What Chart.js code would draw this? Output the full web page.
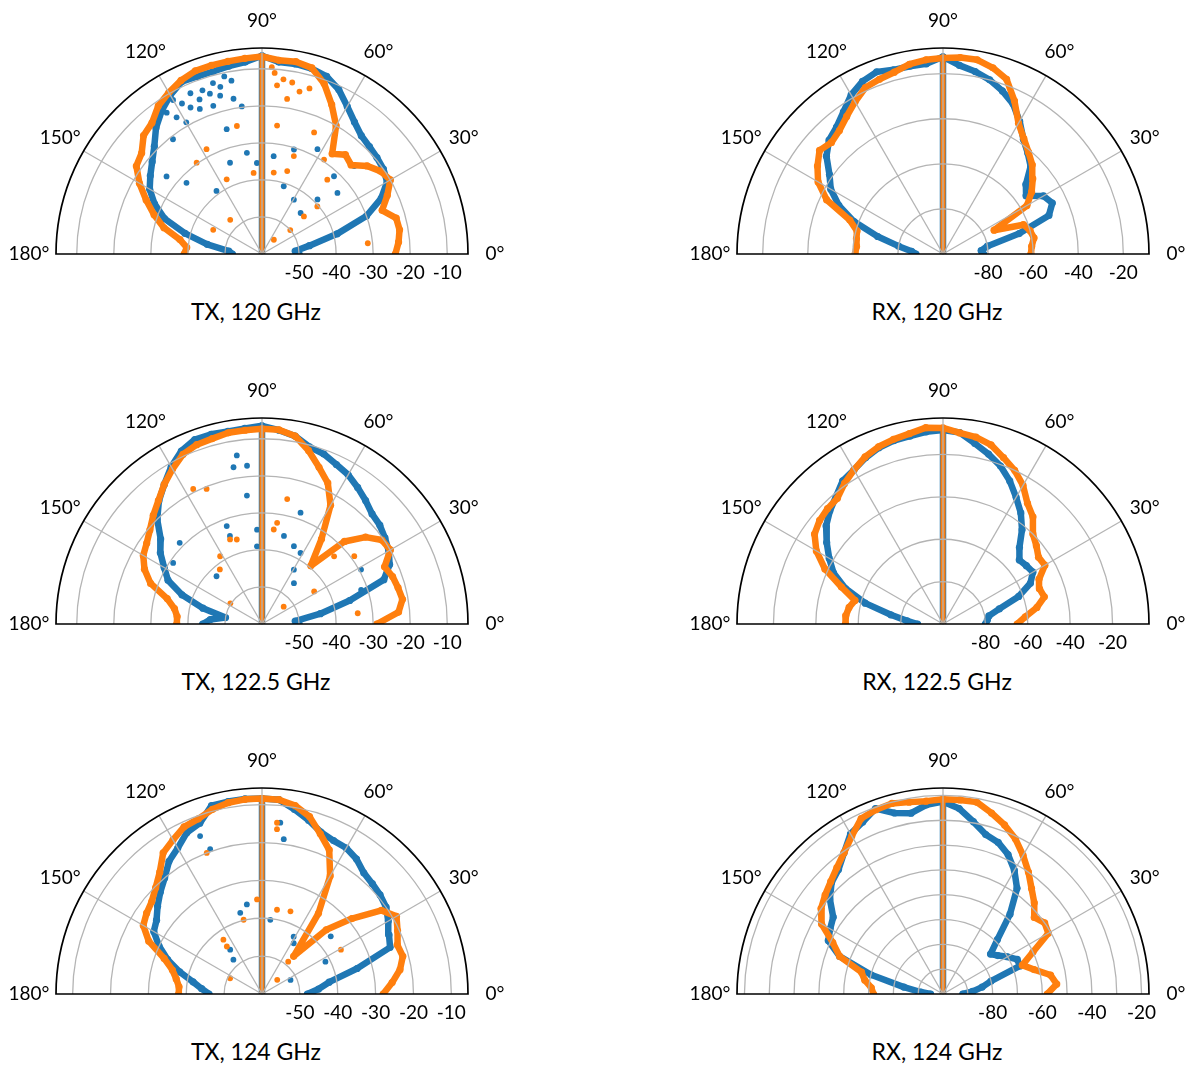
<!DOCTYPE html>
<html>
<head>
<meta charset="utf-8">
<script src="https://cdn.jsdelivr.net/npm/chart.js@4.4.0/dist/chart.umd.min.js"></script>
<style>
  html, body { margin: 0; padding: 0; background: #fff; }
  body { width: 1192px; height: 1066px; position: relative; overflow: hidden; font-family: Lato, "Open Sans", sans-serif; }
  .panel { position: absolute; }
  .title { position: absolute; width: 300px; text-align: center; font-size: 23px; line-height: 24px; color: #000; white-space: nowrap; }
</style>
</head>
<body>
<script>
// Sweep angles (degrees) shared by every pattern
const angles = [0,5,10,15,20,25,30,35,40,45,50,55,60,65,70,75,80,85,90,95,100,105,110,115,120,125,130,135,140,145,150,155,160,165,170,175,180];

// Radial axes (dB)
const txRings = [-50, -40, -30, -20, -10];
const rxRings = [-80, -60, -40, -20];
const rxRingsFine = [-90, -80, -70, -60, -50, -40, -30, -20];
const rxRingLabels = [-80, -60, -40, -20];
const angleTicks = [0, 30, 60, 90, 120, 150, 180];

// TX, 120 GHz
const tx120Blue = [-50,-51,-47,-39,-30,-24.5,-21,-20,-19.5,-19,-18.3,-16.5,-14,-11,-9,-8.2,-7.9,-8,-6.5,-8,-8.5,-9,-9,-8.7,-10.5,-12.8,-15.5,-18.9,-21.3,-23.2,-25,-28,-32,-38.5,-45,-51,-52];
const tx120Orange = [-24,-23,-22.3,-22.5,-25.5,-22.7,-20,-21,-23,-26,-25,-27,-20,-15.5,-11,-8,-7.3,-7.5,-6.7,-7,-7.2,-7.3,-7.4,-8.3,-9.7,-11.2,-13.8,-14.8,-17.6,-18.6,-21.8,-25.5,-29,-32.6,-37.5,-39.6,-39];
const tx120BlueSpots = [[104.8,-15.8],[100.4,-17.4],[108.2,-17.9],[113.2,-17.4],[119.9,-19],[127.8,-20.8],[105.8,-25],[109.3,-33.9],[93.2,-35.4],[83.2,-33.4],[72.2,-40.8],[59.6,-43],[46.7,-44.8],[44.5,-39],[47.2,-31.4],[43.6,-25.6],[125.8,-39],[136.7,-32],[140.9,-26.8],[98.5,-32.4],[97.8,-19.8],[73,-30.5],[62.1,-28],[39,-33.8],[110,-13],[114,-12.5],[118,-14],[106,-12],[102,-11],[112,-15],[116,-16],[122,-16.5],[108,-14.5],[124,-14],[104,-13.5],[100,-12.5],[120,-12]];
const tx120OrangeSpots = [[84.9,-14.3],[80.8,-17.6],[83.3,-25.1],[101.1,-24.8],[125.6,-29.7],[117.9,-28],[115.3,-37.7],[95.9,-38],[81.8,-37.8],[73.1,-36.6],[72,-32.2],[66.8,-24.3],[56.7,-29.5],[50.2,-55],[132.9,-47.4],[153.6,-45.3],[40.3,-50],[48.7,-33.3],[5.8,-31.3],[41.9,-44.8],[40.7,-40.3],[86,-11],[83,-12.5],[80,-13],[77,-15],[74,-13.5],[87,-9.5]];

// TX, 122.5 GHz
const tx1225Blue = [-50,-51,-44,-35.5,-25,-22,-20.5,-19.5,-18.5,-18,-16.5,-15,-13.5,-12.5,-11.2,-10.5,-8.5,-7.5,-6.5,-7,-7.2,-7,-7,-8.5,-11,-14,-16.7,-20,-24.3,-26.5,-29.5,-32,-37,-43.5,-50,-46,-44];
const tx1225Orange = [-29,-23,-21.5,-22,-22.5,-23.5,-20,-20.5,-23.5,-28.5,-39.5,-32,-23,-18,-15,-11.5,-8.5,-7.4,-7.3,-7.5,-7.6,-8.2,-8.5,-9.5,-11.7,-14,-16.5,-18.5,-20.5,-22,-23,-25,-28,-33.5,-36,-37,-37];
const tx1225BlueSpots = [[100.3,-17],[95.4,-17.1],[98.5,-14],[96.7,-25.1],[109.8,-31.9],[110,-34.7],[93,-34.5],[93.7,-39],[76,-35.5],[67.7,-37.3],[61.5,-38.2],[59.6,-43],[52,-46],[70.9,-28.2],[135.4,-28.8],[145.5,-30.9],[133.6,-42.2],[19,-31.7],[28.8,-29.5]];
const tx1225OrangeSpots = [[117,-19.1],[112.3,-20.6],[121.7,-38.5],[110.7,-35.6],[127.7,-41.4],[106.6,-36.2],[81.5,-32.4],[78.6,-25.6],[82.9,-34.3],[38.7,-52.5],[32,-43.4],[43.2,-33.3],[6.4,-34],[36.3,-29.1],[146.9,-49.8]];

// TX, 124 GHz
const tx124Blue = [-48,-45,-42,-34,-24,-23,-21.5,-20,-19.3,-18.8,-18.2,-16.5,-15.5,-15.3,-14.5,-12.5,-10.5,-8.5,-8.4,-8.3,-8.4,-8.5,-12,-13,-15.5,-17.2,-20,-22,-24,-26,-27,-30,-33.5,-37.5,-41.5,-44,-46];
const tx124Orange = [-28,-25.5,-23,-21.5,-22,-20.5,-19,-21.5,-29,-36,-47,-34,-24,-18,-15,-11.5,-9.5,-8.5,-8.4,-8.4,-8.7,-9.5,-10.8,-11.3,-13,-14.5,-18,-20.3,-22,-22.8,-23.8,-27,-32.5,-35.5,-37,-38,-38];
const tx124BlueSpots = [[99.6,-36],[105,-37.8],[83.6,-40.3],[125.7,-45.6],[129.8,-48.2],[83.9,-14.5],[82,-18.7],[61.1,-42.7],[58,-44.2],[27,-41.2],[40,-36.3],[26.3,-51.6],[109.7,-19.4],[111.4,-15.2]];
const tx124OrangeSpots = [[93,-35],[79.9,-37.4],[71,-36.9],[103.9,-39.8],[125.4,-42.4],[126.5,-44.4],[153.7,-50.6],[111.4,-20],[85,-14.6],[84.8,-16.3],[29.3,-36.1],[43,-54.5],[51,-49]];

// RX, 120 GHz
const rx120Blue = [-82,-83,-80,-65,-50,-46.5,-48.5,-55,-52,-45,-41.5,-37.8,-32,-26.5,-23,-20,-17.8,-16,-12.5,-15.3,-15.4,-15.4,-14,-15.5,-18.5,-23,-26.5,-28.5,-32.5,-38.5,-42.5,-49,-58,-70,-80,-86,-88];
const rx120Orange = [-61,-60.5,-59,-60,-62,-75,-57,-52,-48,-44,-41,-37.5,-33,-25,-17.5,-14.5,-12.5,-12.5,-13,-13.5,-14.5,-16.5,-17.5,-18.5,-22,-25.5,-28.5,-30,-28.5,-32,-36,-43,-56,-60.5,-61,-61.5,-61];

// RX, 122.5 GHz
const rx1225Blue = [-80,-79,-78,-72.5,-62,-54.5,-51,-52,-53,-49,-42,-36,-31,-25.5,-20.7,-17,-13.5,-9.3,-8.5,-9,-10,-10.4,-11.5,-13.5,-16,-17.5,-21.5,-24.5,-28,-33,-38,-43,-51,-62,-75,-83,-88];
const rx1225Orange = [-65,-61,-55,-50.5,-51.5,-50,-44.5,-45,-42.5,-40,-34,-30.5,-24.5,-20,-16.5,-12.5,-10.5,-9.5,-7.5,-7,-8.8,-9.8,-11,-13,-16,-19,-22.5,-23,-24,-26,-31,-38.5,-49,-57,-55,-54,-54];

// RX, 124 GHz
const rx124Blue = [-92,-88,-84,-80,-67,-67,-70,-73,-75,-69,-58,-48,-42.5,-38,-35,-33.5,-29.5,-25,-22.5,-23.5,-26,-24.5,-20.5,-23.5,-25.5,-30.5,-34.5,-36.5,-40.5,-46,-47.5,-49,-55.7,-70,-84,-91,-95];
const rx124Orange = [-58,-54,-56,-62,-66,-60,-51,-50,-52,-48,-44.5,-40,-35.5,-31,-27.5,-24.5,-21.5,-21.5,-21.5,-22,-21.5,-20.5,-21,-22,-26.5,-30.5,-33.5,-36,-38,-40,-43.5,-51,-55.7,-66,-68,-71,-72];

const BLUE = '#1f77b4';
const ORANGE = '#ff7f0e';
const R = 206;          // outer radius in px
const PAD = { left: 75, right: 75, top: 45, bottom: 40 };

const panels = [
  { title: 'TX, 120 GHz',   cx: 262, cy: 254, rMin: -60,  rMax: -4.4, rings: txRings,     labels: txRings,      blue: tx120Blue,  orange: tx120Orange,  blueSpots: tx120BlueSpots,  orangeSpots: tx120OrangeSpots },
  { title: 'RX, 120 GHz',   cx: 943, cy: 254, rMin: -100, rMax: -8.6, rings: rxRings,     labels: rxRingLabels, blue: rx120Blue,  orange: rx120Orange,  blueSpots: [], orangeSpots: [] },
  { title: 'TX, 122.5 GHz', cx: 262, cy: 624, rMin: -60,  rMax: -4.4, rings: txRings,     labels: txRings,      blue: tx1225Blue, orange: tx1225Orange, blueSpots: tx1225BlueSpots, orangeSpots: tx1225OrangeSpots },
  { title: 'RX, 122.5 GHz', cx: 943, cy: 624, rMin: -100, rMax: -2.8, rings: rxRings,     labels: rxRingLabels, blue: rx1225Blue, orange: rx1225Orange, blueSpots: [], orangeSpots: [] },
  { title: 'TX, 124 GHz',   cx: 262, cy: 994, rMin: -60,  rMax: -5.6, rings: txRings,     labels: txRings,      blue: tx124Blue,  orange: tx124Orange,  blueSpots: tx124BlueSpots,  orangeSpots: tx124OrangeSpots },
  { title: 'RX, 124 GHz',   cx: 943, cy: 994, rMin: -100, rMax: -17,  rings: rxRingsFine, labels: rxRingLabels, blue: rx124Blue,  orange: rx124Orange,  blueSpots: [], orangeSpots: [] }
];

// polar (deg, dB) -> normalised cartesian for the half-disc
function toXY(theta, db, p) {
  const rho = Math.max(0, (db - p.rMin) / (p.rMax - p.rMin));
  const t = theta * Math.PI / 180;
  return { x: rho * Math.cos(t), y: rho * Math.sin(t) };
}

// Half-polar grid, spine and tick labels drawn on top of the markers
function polarFrame(p) {
  return {
    id: 'polarFrame',
    afterDatasetsDraw(chart) {
      const ctx = chart.ctx;
      const xs = chart.scales.x, ys = chart.scales.y;
      const cx = xs.getPixelForValue(0), cy = ys.getPixelForValue(0);
      const Rpx = xs.getPixelForValue(1) - cx;
      const rad = v => Rpx * (v - p.rMin) / (p.rMax - p.rMin);
      ctx.save();
      ctx.strokeStyle = '#b4b4b4';
      ctx.lineWidth = 1.3;
      p.rings.forEach(v => {
        ctx.beginPath();
        ctx.arc(cx, cy, rad(v), Math.PI, 2 * Math.PI);
        ctx.stroke();
      });
      angleTicks.slice(1, -1).forEach(a => {
        const t = a * Math.PI / 180;
        ctx.beginPath();
        ctx.moveTo(cx, cy);
        ctx.lineTo(cx + Rpx * Math.cos(t), cy - Rpx * Math.sin(t));
        ctx.stroke();
      });
      ctx.strokeStyle = '#000';
      ctx.lineWidth = 1.7;
      ctx.beginPath();
      ctx.arc(cx, cy, Rpx, Math.PI, 2 * Math.PI);
      ctx.closePath();
      ctx.stroke();

      ctx.fillStyle = '#000';
      ctx.font = '19px Lato, "Open Sans", sans-serif';
      ctx.textAlign = 'center';
      ctx.textBaseline = 'middle';
      angleTicks.forEach(a => {
        const t = a * Math.PI / 180;
        ctx.fillText(a + '\u00b0', cx + (Rpx + 27) * Math.cos(t), cy - (Rpx + 27) * Math.sin(t));
      });
      p.labels.forEach(v => {
        ctx.fillText(String(v), cx + rad(v), cy + 19);
      });
      ctx.restore();
    }
  };
}

panels.forEach(p => {
  const w = 2 * R + PAD.left + PAD.right;
  const h = R + PAD.top + PAD.bottom;
  const holder = document.createElement('div');
  holder.className = 'panel';
  holder.style.left = (p.cx - R - PAD.left) + 'px';
  holder.style.top = (p.cy - R - PAD.top) + 'px';
  holder.style.width = w + 'px';
  holder.style.height = h + 'px';
  const canvas = document.createElement('canvas');
  canvas.width = w; canvas.height = h;
  canvas.style.width = w + 'px'; canvas.style.height = h + 'px';
  holder.appendChild(canvas);
  document.body.appendChild(holder);

  const title = document.createElement('div');
  title.className = 'title';
  title.textContent = p.title;
  title.style.left = (p.cx - 6 - 150) + 'px';
  title.style.top = (p.cy + 57 - 12) + 'px';
  document.body.appendChild(title);

  const outline = vals => vals.map((v, i) => toXY(angles[i], v, p));
  const spots = list => list.map(s => toXY(s[0], s[1], p));
  const mast = vals => [toXY(90, p.rMin, p), toXY(90, vals[angles.indexOf(90)], p)];

  const dot = (color, data, order) => ({ data, order, showLine: false, clip: 0,
    pointRadius: 2.9, pointBorderWidth: 0, pointBackgroundColor: color, pointBorderColor: color });
  const band = (color, data, order, width, pr) => ({ data, order, showLine: true, clip: 0, tension: 0,
    borderColor: color, borderWidth: width, borderJoinStyle: 'round', borderCapStyle: 'round',
    pointRadius: pr, pointBorderWidth: 0, pointBackgroundColor: color, pointBorderColor: color });

  new Chart(canvas, {
    type: 'scatter',
    data: {
      datasets: [
        dot(BLUE, spots(p.blueSpots), 6),
        band(BLUE, outline(p.blue), 5, 6.5, 3.6),
        band(BLUE, mast(p.blue), 4, 6.5, 0),
        dot(ORANGE, spots(p.orangeSpots), 3),
        band(ORANGE, outline(p.orange), 2, 6.5, 3.6),
        band(ORANGE, mast(p.orange), 1, 5, 0)
      ]
    },
    options: {
      responsive: false,
      animation: false,
      events: [],
      layout: { padding: PAD },
      scales: {
        x: { type: 'linear', min: -1, max: 1, display: false },
        y: { type: 'linear', min: 0, max: 1, display: false }
      },
      plugins: { legend: { display: false }, tooltip: { enabled: false } }
    },
    plugins: [polarFrame(p)]
  });
});
</script>
</body>
</html>
